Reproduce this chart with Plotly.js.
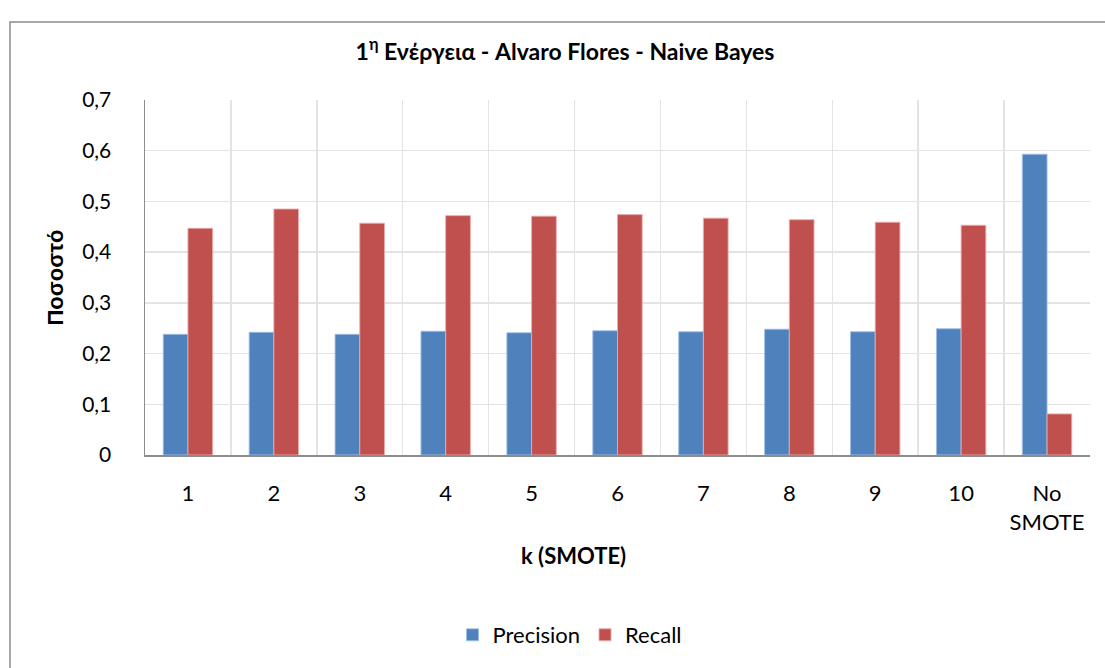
<!DOCTYPE html>
<html>
<head>
<meta charset="utf-8">
<script src="https://cdn.plot.ly/plotly-3.0.1.min.js"></script>
<style>
  html, body { margin: 0; padding: 0; background: #ffffff; overflow: hidden; }
  #chart { width: 1105px; height: 668px; }
</style>
</head>
<body>
<div id="chart"></div>
<script>
// k neighbours used by SMOTE, plus the run without oversampling
const categories = ['1', '2', '3', '4', '5', '6', '7', '8', '9', '10', 'No<br>SMOTE'];
const precision = [0.238, 0.242, 0.238, 0.244, 0.241, 0.245, 0.243, 0.248, 0.243, 0.249, 0.593];
const recall    = [0.447, 0.485, 0.457, 0.472, 0.471, 0.474, 0.467, 0.464, 0.459, 0.453, 0.081];
const yTicks = [0, 0.1, 0.2, 0.3, 0.4, 0.5, 0.6, 0.7];

const mainFont = 'Lato, "Open Sans", sans-serif';

const traces = [
  {
    type: 'bar', name: 'Precision', x: categories, y: precision,
    marker: { color: '#4F81BD', line: { color: 'rgba(160,190,230,0.9)', width: 1 } },
    hoverinfo: 'x+y'
  },
  {
    type: 'bar', name: 'Recall', x: categories, y: recall,
    marker: { color: '#C0504D', line: { color: 'rgba(235,170,170,0.9)', width: 1 } },
    hoverinfo: 'x+y'
  }
];

const layout = {
  width: 1105, height: 668,
  paper_bgcolor: '#ffffff', plot_bgcolor: '#ffffff',
  separators: ',.',
  margin: { l: 145, r: 15, t: 100, b: 213 },
  barmode: 'group', bargap: 0.425, bargroupgap: 0,
  font: { family: mainFont, size: 21, color: '#000000' },
  title: {
    text: '<b>1<sup>η</sup> Ενέργεια - Alvaro Flores - Naive Bayes</b>',
    font: { family: mainFont, size: 23, color: '#000000' },
    xref: 'container', x: 565 / 1105, xanchor: 'center',
    yref: 'container', y: 1 - 52 / 668, yanchor: 'middle'
  },
  xaxis: {
    type: 'category',
    tickson: 'boundaries',
    showgrid: true, gridcolor: '#e3e3e3', gridwidth: 1.5,
    showline: true, linecolor: '#8c8c8c', linewidth: 1.5,
    ticks: '', ticklabelstandoff: 18,
    tickfont: { family: mainFont, size: 22, color: '#000000' },
    fixedrange: true
  },
  yaxis: {
    range: [0, 0.7],
    tickvals: yTicks,
    showgrid: true, gridcolor: '#e3e3e3', gridwidth: 1.5,
    zeroline: false,
    showline: true, linecolor: '#8c8c8c', linewidth: 1.5,
    ticks: '', ticklabelstandoff: 28,
    tickfont: { family: mainFont, size: 21, color: '#000000' },
    title: {
      text: '<b>Ποσοστό</b>', standoff: 12,
      font: { family: '"Liberation Sans", Arial, sans-serif', size: 22, color: '#000000' }
    },
    fixedrange: true
  },
  annotations: [
    {
      text: '<b>k (SMOTE)</b>', showarrow: false,
      xref: 'paper', x: (573 - 145) / 945, xanchor: 'center',
      yref: 'paper', y: (455 - 555) / 355, yanchor: 'middle',
      font: { family: mainFont, size: 22, color: '#000000' }
    }
  ],
  legend: {
    orientation: 'h',
    xref: 'container', x: 570 / 1105, xanchor: 'center',
    yref: 'container', y: 1 - 635 / 668, yanchor: 'middle',
    font: { family: mainFont, size: 22, color: '#000000' },
    itemwidth: 30, tracegroupgap: 0
  },
  shapes: [
    // chart-area frame; its right and bottom edges run past the page
    {
      type: 'rect', xref: 'paper', yref: 'paper',
      x0: (10 - 145) / 945, x1: (1120 - 145) / 945,
      y0: (455 - 690) / 355, y1: (455 - 22) / 355,
      line: { color: '#8c8c8c', width: 1.5 }, fillcolor: 'rgba(0,0,0,0)',
      layer: 'below'
    }
  ]
};

Plotly.newPlot('chart', traces, layout, { displayModeBar: false, staticPlot: true });
</script>
</body>
</html>
